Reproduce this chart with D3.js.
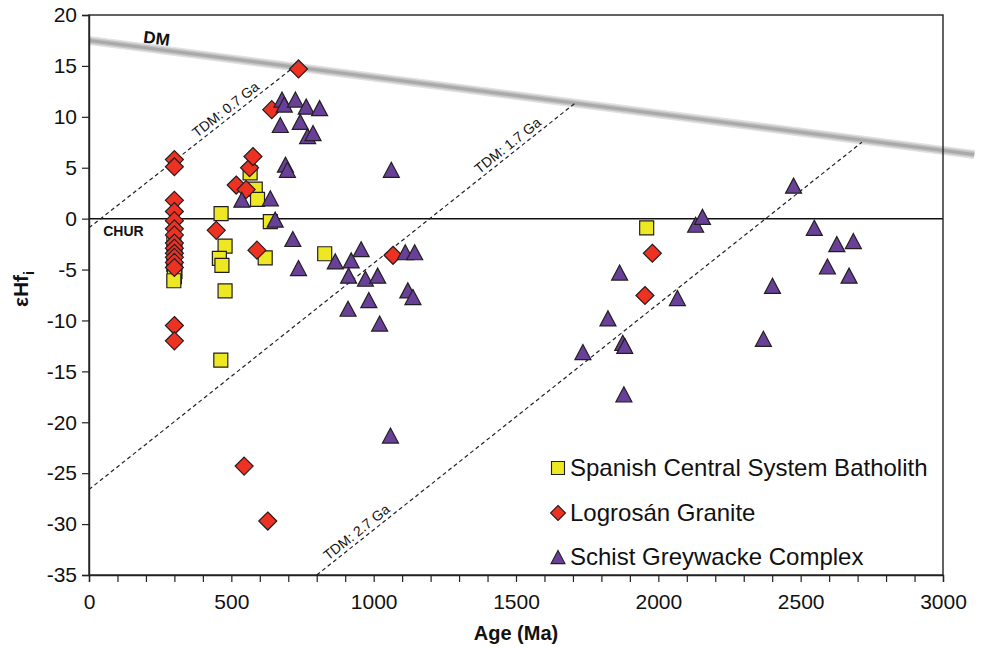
<!DOCTYPE html>
<html><head><meta charset="utf-8">
<script src="https://cdn.jsdelivr.net/npm/d3@7"></script>
<style>
body{margin:0;background:#fff}
svg{display:block}
text{font-family:"Liberation Sans",Arial,Helvetica,sans-serif;fill:#111}
</style>
</head><body>
<svg id="chart" width="984" height="648"></svg>
<script>
// ---------------- DATA ----------------
const seriesNames = ["Spanish Central System Batholith", "Logrosán Granite", "Schist Greywacke Complex"];

// Spanish Central System Batholith (squares)
const scbAge = [298, 302, 300, 298, 302, 300, 298, 464, 478, 458, 467, 478, 463, 566, 584, 592, 619, 637, 828, 1959];
const scbEps = [-2.4, -3.1, -3.8, -4.5, -5.2, -5.7, -6.1, 0.5, -2.7, -3.9, -4.6, -7.1, -13.9, 4.5, 2.9, 1.9, -3.85, -0.3, -3.45, -0.9];

// Logrosán Granite (diamonds)
const lgAge = [300, 300, 300, 300, 300, 300, 300, 300, 300, 300, 300, 300, 300, 300, 300,
               447, 517, 552, 564, 576, 590, 642, 736, 1068, 1953, 1979, 545, 628];
const lgEps = [5.8, 5.1, 1.8, 0.7, -0.2, -1.0, -1.6, -2.4, -2.9, -3.4, -3.8, -4.3, -4.8, -10.5, -12.0,
               -1.15, 3.3, 2.85, 5.0, 6.1, -3.1, 10.7, 14.7, -3.6, -7.55, -3.4, -24.3, -29.7];

// Schist Greywacke Complex (triangles)
const sgcAge = [537, 637, 654, 716, 736, 690, 697,
                678, 686, 725, 763, 810, 672, 742, 768, 787,
                1062, 865, 956, 921, 912, 971, 1014, 1111, 1144, 1120, 1138, 983, 910, 1021, 1059,
                1864, 1823, 1875, 1882, 1735, 1879, 2067, 2131, 2155, 2475, 2548, 2627, 2685, 2594, 2670, 2401, 2369];
const sgcEps = [1.86, 2.0, -0.1, -2.0, -4.85, 5.3, 4.8,
                11.7, 11.2, 11.7, 11.0, 10.85, 9.2, 9.5, 8.1, 8.4,
                4.8, -4.2, -3.0, -4.1, -5.6, -5.9, -5.6, -3.3, -3.3, -7.05, -7.7, -8.0, -8.85, -10.3, -21.3,
                -5.3, -9.8, -12.2, -12.5, -13.1, -17.25, -7.8, -0.6, 0.17, 3.24, -0.9, -2.5, -2.2, -4.7, -5.6, -6.6, -11.8];

// Reference lines
const dmAge = [0, 3110];
const dmEps = [17.5, 6.3];
const dmLabelAge = 235;
const churAge = [0, 3000];
const churEps = [0, 0];
const tdmLabels = ["TDM: 0.7 Ga", "TDM: 1.7 Ga", "TDM: 2.7 Ga"];
const tdmStartAge = [0, 0, 800];
const tdmStartEps = [-0.9, -26.6, -35];
const tdmEndAge = [725, 1710, 2715];
const tdmEndEps = [15.0, 11.4, 7.5];
const tdmLabelAge = [499, 1490, 959];

// Axes
const xTickValues = d3.range(0, 3001, 100);
const xTickLabels = [0, 500, 1000, 1500, 2000, 2500, 3000];
const yTickValues = d3.range(-35, 21, 5);
const xTitle = "Age (Ma)";

// ---------------- CHART ----------------
const svg = d3.select("#chart");
const m = {left: 89, right: 943, top: 15, bottom: 575};
const x = d3.scaleLinear().domain([0, 3000]).range([m.left, m.right]);
const y = d3.scaleLinear().domain([-35, 20]).range([m.bottom, m.top]);

const colors = ["#eee822", "#ed3224", "#684098"];
const strokeCol = "#231f20";

// DM band
const dmPts = dmAge.map((a, i) => [x(a), y(dmEps[i])]);
const line = d3.line();
[["#e2e2e2", 9], ["#c4c4c4", 6], ["#a9a9a9", 3]].forEach(([c, w]) => {
  svg.append("path").attr("d", line(dmPts)).attr("stroke", c).attr("stroke-width", w).attr("fill", "none");
});
const dmAngle = Math.atan2(dmPts[1][1] - dmPts[0][1], dmPts[1][0] - dmPts[0][0]) * 180 / Math.PI;
const dmAtLabel = dmEps[0] + (dmLabelAge - dmAge[0]) / (dmAge[1] - dmAge[0]) * (dmEps[1] - dmEps[0]);
svg.append("text").attr("transform", `translate(${x(dmLabelAge)},${y(dmAtLabel) - 5}) rotate(${dmAngle})`)
  .attr("text-anchor", "middle").style("font-size", "17px").style("font-weight", "bold").text("DM");

// CHUR line
svg.append("path").attr("d", line(churAge.map((a, i) => [x(a), y(churEps[i])])))
  .attr("stroke", "#111").attr("stroke-width", 1.5).attr("fill", "none");
svg.append("text").attr("x", x(50)).attr("y", y(0) + 17).style("font-size", "14px")
  .style("font-weight", "bold").text("CHUR");

// TDM lines
tdmLabels.forEach((lab, i) => {
  const p0 = [x(tdmStartAge[i]), y(tdmStartEps[i])];
  const p1 = [x(tdmEndAge[i]), y(tdmEndEps[i])];
  svg.append("path").attr("d", line([p0, p1])).attr("stroke", "#222").attr("stroke-width", 1.2)
    .attr("stroke-dasharray", "4,3").attr("fill", "none");
  const t = (tdmLabelAge[i] - tdmStartAge[i]) / (tdmEndAge[i] - tdmStartAge[i]);
  const ev = tdmStartEps[i] + t * (tdmEndEps[i] - tdmStartEps[i]);
  const ang = Math.atan2(p1[1] - p0[1], p1[0] - p0[0]) * 180 / Math.PI;
  svg.append("text").attr("transform", `translate(${x(tdmLabelAge[i])},${y(ev)}) rotate(${ang})`)
    .attr("text-anchor", "middle").attr("dy", -4).style("font-size", "14px").text(lab);
});

// Frame
svg.append("rect").attr("x", m.left).attr("y", m.top).attr("width", m.right - m.left)
  .attr("height", m.bottom - m.top).attr("fill", "none").attr("stroke", "#222").attr("stroke-width", 1.4);

// Axes
const xAxis = d3.axisBottom(x).tickValues(xTickValues).tickSize(7).tickPadding(12)
  .tickFormat(d => xTickLabels.includes(d) ? String(d) : "");
const gx = svg.append("g").attr("transform", `translate(0,${m.bottom})`).call(xAxis);
const yAxis = d3.axisLeft(y).tickValues(yTickValues).tickSize(7).tickPadding(5).tickFormat(d => String(d));
const gy = svg.append("g").attr("transform", `translate(${m.left},0)`).call(yAxis);
[gx, gy].forEach(g => {
  g.select(".domain").attr("stroke", "#222").attr("stroke-width", 1.4);
  g.selectAll(".tick line").attr("stroke", "#222").attr("stroke-width", 1.2);
  g.selectAll(".tick text").style("font-size", "21px").style("font-family", '"Liberation Sans",Arial,sans-serif').attr("fill", "#111");
});

svg.append("text").attr("x", (m.left + m.right) / 2).attr("y", 640).attr("text-anchor", "middle")
  .style("font-size", "20px").style("font-weight", "bold").text(xTitle);
const yt = svg.append("text").attr("transform", `translate(28,${(m.top + m.bottom) / 2 - 6}) rotate(-90)`)
  .attr("text-anchor", "middle").style("font-size", "21px").style("font-weight", "bold");
yt.append("tspan").text("εHf");
yt.append("tspan").attr("dy", 6).style("font-size", "14px").text("i");

// Symbols
const triType = {draw(ctx, size) { const w = Math.sqrt(size); const h = w * 0.94;
  ctx.moveTo(0, -h / 2); ctx.lineTo(w / 2, h / 2); ctx.lineTo(-w / 2, h / 2); ctx.closePath(); }};
const diaType = {draw(ctx, size) { const r = Math.sqrt(size) / 2;
  ctx.moveTo(0, -r); ctx.lineTo(r, 0); ctx.lineTo(0, r); ctx.lineTo(-r, 0); ctx.closePath(); }};
const types = [d3.symbolSquare, diaType, triType];
const sizes = [14 * 14, 18 * 18, 16 * 16];
const legSizes = [13 * 13, 15 * 15, 14 * 14];

const series = [
  {ages: scbAge, eps: scbEps},
  {ages: lgAge, eps: lgEps},
  {ages: sgcAge, eps: sgcEps}
];
series.forEach((s, si) => {
  const sym = d3.symbol().type(types[si]).size(sizes[si]);
  svg.append("g").selectAll("path").data(s.ages.map((a, i) => [a, s.eps[i]])).join("path")
    .attr("d", sym).attr("transform", d => `translate(${x(d[0])},${y(d[1])})`)
    .attr("fill", colors[si]).attr("stroke", strokeCol).attr("stroke-width", 1.2);
});

// Legend
const legY = [468, 513, 557];
seriesNames.forEach((n, i) => {
  svg.append("path").attr("d", d3.symbol().type(types[i]).size(legSizes[i]))
    .attr("transform", `translate(558,${legY[i]})`).attr("fill", colors[i])
    .attr("stroke", strokeCol).attr("stroke-width", 1.1);
  svg.append("text").attr("x", 570).attr("y", legY[i] + 8).style("font-size", "24px").text(n);
});
</script>
</body></html>
